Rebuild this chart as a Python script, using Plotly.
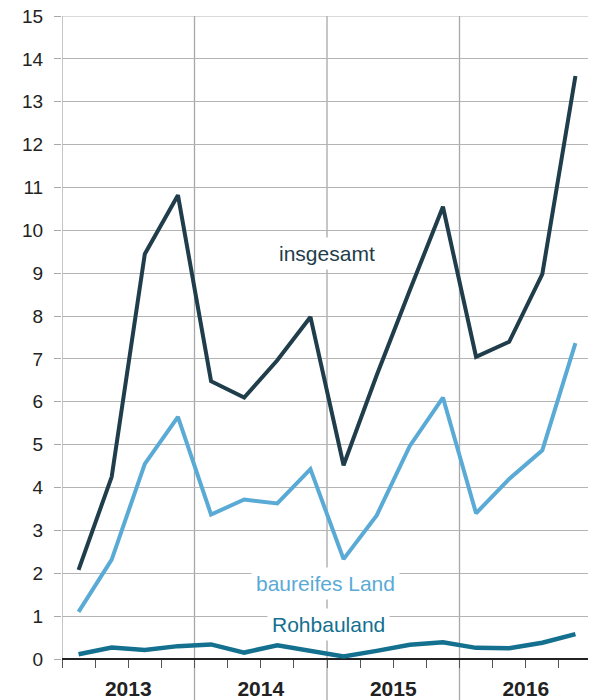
import plotly.graph_objects as go

# ---- data ----
years = ["2013", "2014", "2015", "2016"]
quarters_per_year = 4
insgesamt = [2.08, 4.25, 9.45, 10.82, 6.48, 6.10, 6.97, 7.98,
             4.52, 6.62, 8.60, 10.55, 7.05, 7.40, 8.98, 13.60]
baureifes_land = [1.10, 2.32, 4.55, 5.65, 3.37, 3.72, 3.63, 4.43,
                  2.33, 3.35, 4.97, 6.10, 3.40, 4.20, 4.87, 7.37]
rohbauland = [0.11, 0.27, 0.21, 0.30, 0.34, 0.15, 0.32, 0.20,
              0.06, 0.19, 0.33, 0.39, 0.26, 0.25, 0.38, 0.58]
y_ticks = list(range(0, 16))

# ---- derived positions ----
n = len(insgesamt)
x_pos = [i + 0.5 for i in range(n)]
year_centers = [quarters_per_year * i + quarters_per_year / 2 for i in range(len(years))]
year_bounds = [quarters_per_year * i for i in range(len(years) + 1)]
quarter_bounds = list(range(n + 1))
quarter_labels = [years[b // quarters_per_year] if b in year_centers else "" for b in quarter_bounds]

c_ins = "#1f3d4a"
c_bau = "#5aaad6"
c_roh = "#13708f"
font_family = "Liberation Sans, Arial, Helvetica, sans-serif"

fig = go.Figure()
fig.add_trace(go.Scatter(x=x_pos, y=insgesamt, mode="lines", name="insgesamt",
                         line=dict(color=c_ins, width=4), showlegend=False))
fig.add_trace(go.Scatter(x=x_pos, y=baureifes_land, mode="lines", name="baureifes Land",
                         line=dict(color=c_bau, width=4), showlegend=False))
fig.add_trace(go.Scatter(x=x_pos, y=rohbauland, mode="lines", name="Rohbauland",
                         line=dict(color=c_roh, width=4.5), showlegend=False))

# year boundary lines (extend below axis, except the first)
shapes = []
for i, b in enumerate(year_bounds):
    shapes.append(dict(type="line", xref="x", yref="paper", x0=b, x1=b,
                       y0=(-0.0125 if i == 0 else -0.07), y1=1,
                       line=dict(color="#a8a8a8", width=1.3), layer="below"))
# top grid line at the maximum of the value axis
shapes.append(dict(type="line", xref="paper", yref="y", x0=0, x1=1,
                   y0=y_ticks[-1], y1=y_ticks[-1],
                   line=dict(color="#b4b4b4", width=1.2), layer="below"))

annotations = [
    dict(x=8, y=9.47, text="insgesamt", font=dict(color=c_ins, size=21)),
    dict(x=7.95, y=1.77, text="baureifes Land", font=dict(color=c_bau, size=21)),
    dict(x=8.05, y=0.8, text="Rohbauland", font=dict(color=c_roh, size=21)),
]
for a in annotations:
    a.update(xref="x", yref="y", showarrow=False, bgcolor="white", borderpad=4,
             xanchor="center", yanchor="middle")

fig.update_layout(
    width=588, height=692,
    margin=dict(l=54, r=4, t=8, b=41),
    plot_bgcolor="white", paper_bgcolor="white",
    font=dict(family=font_family, size=19, color="#222"),
    shapes=shapes, annotations=annotations,
    xaxis=dict(range=[0, 16], tickvals=quarter_bounds, ticktext=quarter_labels,
               tickfont=dict(size=21, color="#222", family=font_family, weight="bold"),
               showgrid=False, zeroline=False, showline=False, automargin=False,
               ticks="outside", ticklen=8, tickcolor="#555", tickwidth=1,
               ticklabelstandoff=3, fixedrange=True),
    yaxis=dict(range=[0, 15], tickvals=y_ticks, showgrid=True, gridcolor="#b4b4b4",
               gridwidth=1.2, zeroline=True, zerolinecolor="#222", zerolinewidth=1.5,
               showline=False, ticks="outside", ticklen=7, tickcolor="#a8a8a8",
               ticklabelstandoff=7, automargin=False, ticklabeloverflow="allow",
               tickfont=dict(size=19, color="#222"), fixedrange=True),
)

fig.write_html("out.html")
